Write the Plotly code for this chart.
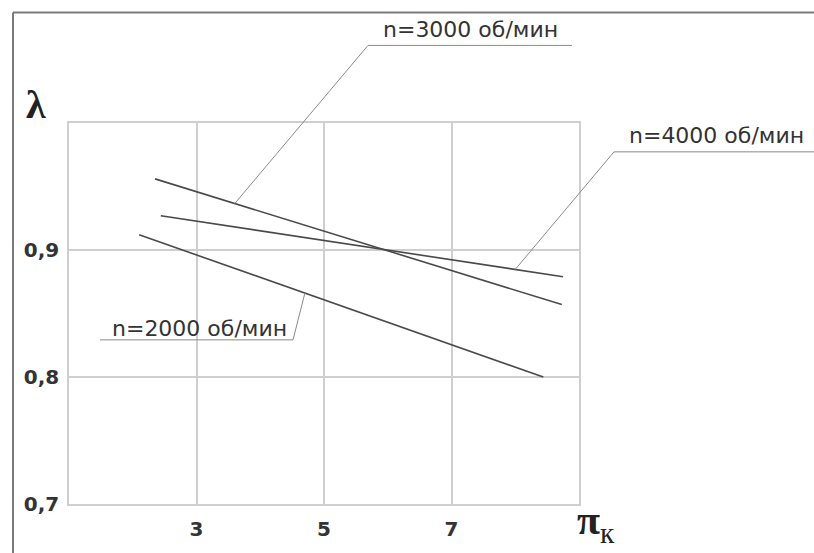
import plotly.graph_objects as go

# ---- data ----
x_2000 = [2.10, 8.44]
y_2000 = [0.912, 0.800]
x_3000 = [2.35, 8.73]
y_3000 = [0.956, 0.857]
x_4000 = [2.44, 8.75]
y_4000 = [0.927, 0.879]

x_tickvals = [3, 5, 7]
x_ticktext = ["3", "5", "7"]
y_tickvals = [0.7, 0.8, 0.9]
y_ticktext = ["0,7", "0,8", "0,9"]

labels = ["n=2000 об/мин", "n=3000 об/мин", "n=4000 об/мин"]
leader_x = [4.70, 3.60, 8.00]   # points on the curves where leader lines touch

XMIN, XMAX = 1, 9
YMIN, YMAX = 0.7, 1.0

W, H = 814, 553
ML, MR, MT, MB = 69, 235, 123, 47
PW = W - ML - MR
PH = H - MT - MB


def px_to_paper(px, py):
    return (px - ML) / PW, (H - MB - py) / PH


def data_to_paper(x, y):
    return (x - XMIN) / (XMAX - XMIN), (y - YMIN) / (YMAX - YMIN)


def interp(xs, ys, x):
    return ys[0] + (ys[1] - ys[0]) * (x - xs[0]) / (xs[1] - xs[0])


line_col = "#4a4a4a"
grid_col = "#cfcfcf"
lead_col = "#8a8a8a"

fig = go.Figure()
for xs, ys in [(x_2000, y_2000), (x_3000, y_3000), (x_4000, y_4000)]:
    fig.add_trace(go.Scatter(x=xs, y=ys, mode="lines",
                             line=dict(color=line_col, width=1.6),
                             showlegend=False, hoverinfo="skip"))

shapes = []
annotations = []

# frame (top and left edges of the image border)
fx0, fy0 = px_to_paper(13, 12)
fx1, _ = px_to_paper(816, 12)
_, fyb = px_to_paper(13, 556)
shapes.append(dict(type="line", xref="paper", yref="paper", x0=fx0, y0=fy0, x1=fx1, y1=fy0,
                   line=dict(color="#7a7a7a", width=2)))
shapes.append(dict(type="line", xref="paper", yref="paper", x0=fx0, y0=fy0, x1=fx0, y1=fyb,
                   line=dict(color="#7a7a7a", width=2)))

# leader lines + underlines + labels (pixel anchors of label blocks)
series = [(x_2000, y_2000), (x_3000, y_3000), (x_4000, y_4000)]
knee_px = [(293, 341), (368, 45), (614, 152)]
under_end_px = [100, 572, 814]
text_px = [(199, 330), (470, 29), (716, 136)]

for i, (xs, ys) in enumerate(series):
    lx = leader_x[i]
    ly = interp(xs, ys, lx)
    p0 = data_to_paper(lx, ly)
    k = px_to_paper(*knee_px[i])
    u = px_to_paper(under_end_px[i], knee_px[i][1])
    shapes.append(dict(type="line", xref="paper", yref="paper", x0=p0[0], y0=p0[1], x1=k[0], y1=k[1],
                       line=dict(color=lead_col, width=1)))
    shapes.append(dict(type="line", xref="paper", yref="paper", x0=k[0], y0=k[1], x1=u[0], y1=u[1],
                       line=dict(color=lead_col, width=1)))
    t = px_to_paper(*text_px[i])
    annotations.append(dict(text=labels[i], xref="paper", yref="paper", x=t[0], y=t[1],
                            xanchor="center", yanchor="middle", showarrow=False,
                            font=dict(family="DejaVu Sans", size=22, color="#333333")))

# axis symbols
lx, ly = px_to_paper(36, 104)
annotations.append(dict(text="<b>λ</b>", xref="paper", yref="paper", x=lx, y=ly,
                        xanchor="center", yanchor="middle", showarrow=False,
                        font=dict(family="Liberation Serif", size=40, color="#222222")))
px_, py_ = px_to_paper(575, 553)
annotations.append(dict(text="<b>π</b><sub>к</sub>", xref="paper", yref="paper", x=px_, y=py_,
                        xanchor="left", yanchor="bottom", showarrow=False,
                        font=dict(family="Liberation Serif", size=42, color="#222222")))

fig.update_layout(
    width=W, height=H,
    margin=dict(l=ML, r=MR, t=MT, b=MB, pad=0),
    paper_bgcolor="white", plot_bgcolor="white",
    shapes=shapes, annotations=annotations,
    xaxis=dict(range=[XMIN, XMAX], tickvals=x_tickvals, ticktext=x_ticktext,
               showgrid=True, gridcolor=grid_col, gridwidth=1.5,
               showline=True, linecolor=grid_col, linewidth=1.5, mirror=True,
               zeroline=False, ticks="", ticklabelstandoff=6,
               tickfont=dict(family="DejaVu Sans", size=20, color="#333333", weight="bold"),
               fixedrange=True),
    yaxis=dict(range=[YMIN, YMAX], tickvals=y_tickvals, ticktext=y_ticktext,
               showgrid=True, gridcolor=grid_col, gridwidth=1.5,
               showline=True, linecolor=grid_col, linewidth=1.5, mirror=True,
               zeroline=False, ticks="", ticklabelstandoff=4,
               tickfont=dict(family="DejaVu Sans", size=20, color="#333333", weight="bold"),
               fixedrange=True),
)

fig.write_html("out.html", config={"displayModeBar": False},
               post_script="document.body.style.margin='0';document.body.style.overflow='hidden';")
